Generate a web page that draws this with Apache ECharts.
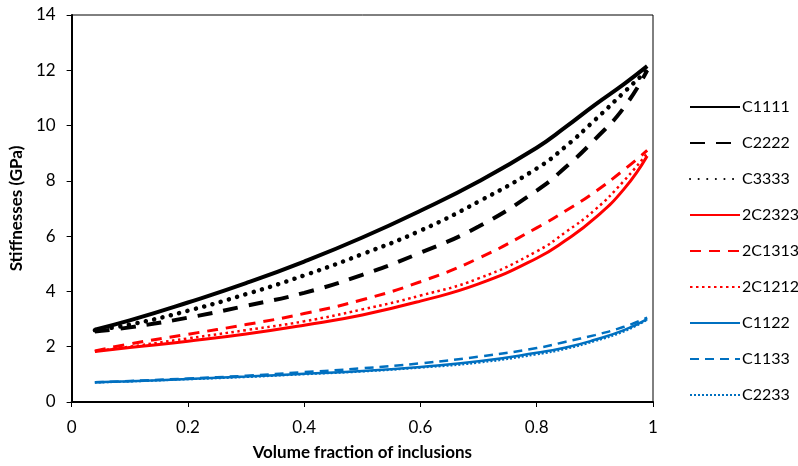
<!DOCTYPE html>
<html>
<head>
<meta charset="utf-8">
<script src="https://cdn.jsdelivr.net/npm/echarts@6/dist/echarts.min.js"></script>
<style>
  html, body { margin: 0; padding: 0; background: #fff; }
  #chart { width: 798px; height: 466px; }
</style>
</head>
<body>
<div id="chart"></div>
<script>
// volume fraction of inclusions
const fractions = [0.04, 0.1, 0.2, 0.3, 0.4, 0.5, 0.6, 0.7, 0.8, 0.85, 0.9, 0.95, 0.99]

// stiffness components (GPa)
const c1111 = [2.62, 2.95, 3.6, 4.3, 5.08, 5.95, 6.92, 7.98, 9.2, 9.95, 10.75, 11.5, 12.15]
const c2222 = [2.55, 2.7, 3.05, 3.48, 3.95, 4.6, 5.4, 6.35, 7.65, 8.5, 9.5, 10.65, 12.0]
const c3333 = [2.6, 2.8, 3.3, 3.9, 4.58, 5.35, 6.2, 7.25, 8.45, 9.25, 10.2, 11.2, 12.0]
const c2323x2 = [1.83, 1.97, 2.2, 2.46, 2.78, 3.15, 3.65, 4.27, 5.2, 5.85, 6.65, 7.7, 8.9]
const c1313x2 = [1.85, 2.1, 2.45, 2.8, 3.2, 3.7, 4.35, 5.2, 6.3, 6.92, 7.6, 8.4, 9.1]
const c1212x2 = [1.83, 2.0, 2.3, 2.6, 2.92, 3.35, 3.85, 4.47, 5.45, 6.15, 6.95, 8.0, 9.0]
const c1122 = [0.71, 0.75, 0.83, 0.92, 1.02, 1.12, 1.27, 1.47, 1.78, 1.97, 2.25, 2.6, 3.0]
const c1133 = [0.71, 0.76, 0.85, 0.95, 1.08, 1.22, 1.4, 1.64, 1.95, 2.18, 2.42, 2.72, 3.05]
const c2233 = [0.7, 0.74, 0.82, 0.9, 1.0, 1.1, 1.24, 1.42, 1.72, 1.92, 2.2, 2.55, 2.97]

const FONT = 'Lato'

function pairs (ys) {
  return fractions.map((x, i) => [x, ys[i]])
}

function line (name, ys, color, width, type, cap) {
  return {
    name: name,
    type: 'line',
    data: pairs(ys),
    smooth: true,
    symbol: 'none',
    lineStyle: { color: color, width: width, type: type, cap: cap || 'butt' },
    itemStyle: { color: color }
  }
}

const chart = echarts.init(document.getElementById('chart'))
const option = {
  animation: false,
  textStyle: { fontFamily: FONT },
  grid: {
    left: 70, right: 145, top: 15, bottom: 63,
    show: true, borderColor: '#000', borderWidth: 1
  },
  legend: {
    orient: 'vertical',
    left: 684,
    top: 94,
    itemWidth: 50,
    itemHeight: 14,
    itemGap: 20,
    itemStyle: { opacity: 0, borderWidth: 0 },
    textStyle: { fontFamily: FONT, fontSize: 16, lineHeight: 14, color: '#000', padding: [0, 0, 0, -3] }
  },
  xAxis: {
    type: 'value',
    min: 0, max: 1, interval: 0.2,
    name: 'Volume fraction of inclusions',
    nameLocation: 'middle',
    nameGap: 42,
    nameTextStyle: { fontFamily: FONT, fontSize: 17, fontWeight: 'bold', color: '#000' },
    axisLine: { lineStyle: { color: '#000', width: 2 } },
    axisTick: { show: true, length: 5, lineStyle: { color: '#000', width: 1 } },
    axisLabel: { fontSize: 17, color: '#000', margin: 17 },
    splitLine: { show: false }
  },
  yAxis: {
    type: 'value',
    min: 0, max: 14, interval: 2,
    name: 'Stiffnesses (GPa)',
    nameLocation: 'middle',
    nameGap: 42,
    nameTextStyle: { fontFamily: FONT, fontSize: 17, fontWeight: 'bold', color: '#000' },
    axisLine: { show: true, lineStyle: { color: '#000', width: 2 } },
    axisTick: { show: true, length: 5, lineStyle: { color: '#000', width: 1 } },
    axisLabel: { fontSize: 17, color: '#000', margin: 16 },
    splitLine: { show: false }
  },
  series: [
    line('C1111', c1111, '#000000', 4, 'solid'),
    line('C2222', c2222, '#000000', 4, [15, 11]),
    line('C3333', c3333, '#000000', 4.5, [0.1, 8.5], 'round'),
    line('2C2323', c2323x2, '#ff0000', 3, 'solid'),
    line('2C1313', c1313x2, '#ff0000', 3, [11, 8]),
    line('2C1212', c1212x2, '#ff0000', 2.5, [2.5, 3.5]),
    line('C1122', c1122, '#0070c0', 2.5, 'solid'),
    line('C1133', c1133, '#0070c0', 2.5, [9, 6]),
    line('C2233', c2233, '#0070c0', 2, [2, 2])
  ]
}
chart.setOption(option)
</script>
</body>
</html>
